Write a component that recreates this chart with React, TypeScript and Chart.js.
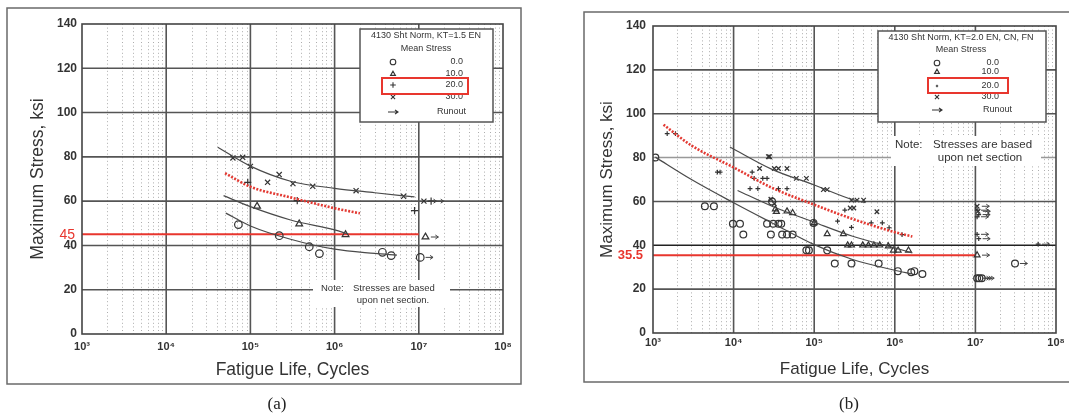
import React, { useEffect, useRef } from "react";
import { Chart, registerables } from "chart.js";
Chart.register(...registerables);

type Pt = { x: number; y: number };

const FONT = '"Liberation Sans", Arial, Helvetica, sans-serif';
const X_DECADES = [1e3, 1e4, 1e5, 1e6, 1e7, 1e8];
const X_TICK_LABELS = ["10³", "10⁴", "10⁵", "10⁶", "10⁷", "10⁸"];
const X_MINOR_MULT = [2, 3, 4, 5, 6, 7, 8, 9];
const Y_GRID = [20, 40, 60, 80, 100, 120];
const MEAN_STRESS = ["0.0", "10.0", "20.0", "30.0"];
const SYMBOLS = ["circle", "triangle", "cross", "crossRot"];
const X_TITLE = "Fatigue Life, Cycles";
const Y_TITLE = "Maximum Stress, ksi";

// ---------- Panel (a) ----------
const A_LEGEND_TITLE = "4130 Sht Norm, KT=1.5 EN";
const A_S0: Pt[] = [
  { x: 7.2e4, y: 49.4 }, { x: 2.2e5, y: 44.4 }, { x: 5.0e5, y: 39.4 },
  { x: 6.6e5, y: 36.3 }, { x: 3.7e6, y: 36.9 }, { x: 4.7e6, y: 35.4 },
];
const A_S0_RUN: Pt[] = [{ x: 1.04e7, y: 34.6 }];
const A_S10: Pt[] = [{ x: 1.2e5, y: 57.7 }, { x: 3.8e5, y: 49.7 }, { x: 1.35e6, y: 44.9 }];
const A_S10_RUN: Pt[] = [{ x: 1.2e7, y: 43.8 }];
const A_S20: Pt[] = [{ x: 9.3e4, y: 68.5 }, { x: 3.6e5, y: 60.2 }, { x: 8.9e6, y: 55.7 }];
const A_S20_RUN: Pt[] = [{ x: 1.4e7, y: 60 }];
const A_S30: Pt[] = [
  { x: 6.2e4, y: 79.5 }, { x: 8.1e4, y: 79.8 }, { x: 1.0e5, y: 75.7 },
  { x: 1.6e5, y: 68.5 }, { x: 2.2e5, y: 72 }, { x: 3.2e5, y: 67.9 },
  { x: 5.5e5, y: 66.7 }, { x: 1.8e6, y: 64.7 }, { x: 6.6e6, y: 62.2 },
];
const A_S30_RUN: Pt[] = [{ x: 1.15e7, y: 60 }];
const A_C0: Pt[] = [
  { x: 5.1e4, y: 54.6 }, { x: 1e5, y: 48.8 }, { x: 3e5, y: 42.8 },
  { x: 1e6, y: 38.3 }, { x: 3e6, y: 36.4 }, { x: 5.5e6, y: 35.6 },
];
const A_C10: Pt[] = [
  { x: 4.8e4, y: 62.5 }, { x: 1e5, y: 57.5 }, { x: 3e5, y: 51.5 },
  { x: 1e6, y: 47 }, { x: 1.45e6, y: 45.2 },
];
const A_C20: Pt[] = [
  { x: 5e4, y: 72.6 }, { x: 1e5, y: 66.5 }, { x: 3e5, y: 61.7 },
  { x: 1e6, y: 56.8 }, { x: 2e6, y: 54.5 },
];
const A_C30: Pt[] = [
  { x: 4.1e4, y: 84.3 }, { x: 1e5, y: 75.8 }, { x: 3e5, y: 69 },
  { x: 1e6, y: 65.8 }, { x: 3e6, y: 63.8 }, { x: 8.9e6, y: 61.9 },
];
const A_RED_VALUE = 45;
const A_RED_LABEL = "45";

// ---------- Panel (b) ----------
const B_LEGEND_TITLE = "4130 Sht Norm, KT=2.0 EN, CN, FN";
const B_S0: Pt[] = [
  { x: 1.07e3, y: 80 }, { x: 4.4e3, y: 57.8 }, { x: 5.7e3, y: 57.8 },
  { x: 9.8e3, y: 49.8 }, { x: 1.2e4, y: 49.8 }, { x: 1.32e4, y: 44.9 },
  { x: 2.6e4, y: 49.8 }, { x: 3.1e4, y: 49.8 }, { x: 3.6e4, y: 49.8 },
  { x: 3.9e4, y: 49.8 }, { x: 2.9e4, y: 44.9 }, { x: 4.0e4, y: 44.9 },
  { x: 4.6e4, y: 44.9 }, { x: 5.4e4, y: 44.9 }, { x: 8.0e4, y: 37.7 },
  { x: 8.6e4, y: 37.7 }, { x: 9.8e4, y: 50.2 }, { x: 1.45e5, y: 37.7 },
  { x: 1.8e5, y: 31.7 }, { x: 2.9e5, y: 31.7 }, { x: 6.3e5, y: 31.7 },
  { x: 1.09e6, y: 28.2 }, { x: 1.6e6, y: 27.7 }, { x: 1.75e6, y: 28.2 },
  { x: 2.2e6, y: 26.9 }, { x: 3.0e4, y: 60 },
];
const B_S0_RUN: Pt[] = [{ x: 1.05e7, y: 25 }, { x: 1.12e7, y: 25 }, { x: 1.2e7, y: 25 }, { x: 3.1e7, y: 31.7 }];
const B_S10: Pt[] = [
  { x: 3.4e4, y: 55.3 }, { x: 3.3e4, y: 56.5 }, { x: 4.6e4, y: 55.5 },
  { x: 5.4e4, y: 54.8 }, { x: 1.0e5, y: 50.2 }, { x: 1.45e5, y: 45.2 },
  { x: 2.3e5, y: 45.2 }, { x: 2.6e5, y: 40 }, { x: 2.9e5, y: 40 },
  { x: 4.0e5, y: 40 }, { x: 4.7e5, y: 40 }, { x: 5.5e5, y: 40 },
  { x: 6.5e5, y: 40 }, { x: 8.3e5, y: 39.6 }, { x: 9.6e5, y: 37.7 },
  { x: 1.1e6, y: 37.7 }, { x: 1.48e6, y: 37.7 },
];
const B_S10_RUN: Pt[] = [{ x: 1.05e7, y: 35.5 }];
const B_S20: Pt[] = [
  { x: 1.5e3, y: 90.9 }, { x: 1.9e3, y: 90.9 }, { x: 6.3e3, y: 73.4 },
  { x: 6.8e3, y: 73.4 }, { x: 1.7e4, y: 73.4 }, { x: 1.8e4, y: 70.5 },
  { x: 2.3e4, y: 70.5 }, { x: 2.6e4, y: 70.5 }, { x: 1.6e4, y: 65.8 },
  { x: 2.0e4, y: 65.8 }, { x: 3.6e4, y: 65.8 }, { x: 4.6e4, y: 65.8 },
  { x: 1.95e5, y: 51 }, { x: 2.9e5, y: 48.2 }, { x: 5.1e5, y: 50.2 },
  { x: 7.0e5, y: 50.2 }, { x: 8.5e5, y: 48 }, { x: 1.23e6, y: 44.9 },
  { x: 2.4e5, y: 56 },
];
const B_S20_RUN: Pt[] = [
  { x: 1.05e7, y: 56 }, { x: 1.1e7, y: 54 }, { x: 1.05e7, y: 53 },
  { x: 1.05e7, y: 45 }, { x: 1.1e7, y: 43 }, { x: 6e7, y: 40.5 },
];
const B_S30: Pt[] = [
  { x: 2.1e4, y: 75 }, { x: 2.7e4, y: 80.4 }, { x: 2.8e4, y: 80.4 },
  { x: 3.2e4, y: 75 }, { x: 3.6e4, y: 75 }, { x: 4.6e4, y: 75 },
  { x: 6.0e4, y: 70.5 }, { x: 8.0e4, y: 70.5 }, { x: 1.3e5, y: 65.4 },
  { x: 1.45e5, y: 65.4 }, { x: 2.9e5, y: 60.6 }, { x: 3.4e5, y: 60.6 },
  { x: 4.1e5, y: 60.6 }, { x: 6.0e5, y: 55.3 }, { x: 2.8e5, y: 57 },
  { x: 3.1e5, y: 57 }, { x: 2.9e4, y: 61 }, { x: 3.2e4, y: 59 },
];
const B_S30_RUN: Pt[] = [{ x: 1.05e7, y: 57.8 }, { x: 1.08e7, y: 55.5 }];
const B_C0: Pt[] = [
  { x: 1.07e3, y: 80.2 }, { x: 3e3, y: 70 }, { x: 1e4, y: 59.4 }, { x: 3e4, y: 50.2 },
  { x: 1e5, y: 40.3 }, { x: 3e5, y: 33.5 }, { x: 1e6, y: 28.6 }, { x: 1.6e6, y: 27 },
];
const B_C10: Pt[] = [
  { x: 1.12e4, y: 65 }, { x: 3e4, y: 57.8 }, { x: 1e5, y: 50.5 },
  { x: 3e5, y: 44.1 }, { x: 1e6, y: 38.8 }, { x: 1.65e6, y: 36.5 },
];
const B_C20: Pt[] = [
  { x: 1.35e3, y: 95 }, { x: 3e3, y: 85.5 }, { x: 1e4, y: 75.5 }, { x: 3e4, y: 66.2 },
  { x: 1e5, y: 58.5 }, { x: 3e5, y: 52 }, { x: 1e6, y: 46 }, { x: 1.65e6, y: 44 },
];
const B_C30: Pt[] = [
  { x: 9e3, y: 84.8 }, { x: 3e4, y: 74.6 }, { x: 1e5, y: 67.5 },
  { x: 3e5, y: 60.8 }, { x: 4.3e5, y: 59.4 },
];
const B_RED_VALUE = 35.5;
const B_RED_LABEL = "35.5";

const NOTE_A = ["Note:", "Stresses are based", "upon net section."];
const NOTE_B = ["Note:", "Stresses are based", "upon net section"];

// ---------- geometry / style ----------
interface PanelCfg {
  id: string;
  left: number; width: number; height: number;
  area: { left: number; right: number; top: number; bottom: number };
  yTickPad: number; xTickPad: number; yTitlePad: number; xTitlePad: number; titleSize: number;
  series: Pt[][]; runs: Pt[][]; curves: Pt[][];
  radius: number[];
  redValue: number; redLabel: string; redBold: boolean; redSize: number; redRight: number;
  frame: [number, number, number, number];
  legend: {
    box: [number, number, number, number]; title: string; cx: number; titleY: number; subY: number;
    symX: number; rowY: number[]; valX: number; runX: number; runY: number; font: number;
    redBox: [number, number, number, number];
  };
  note: { rect: [number, number, number, number]; lines: string[]; noteX: number; textX: number; line2X: number; y1: number; y2: number; font: number };
  gridColor: (v: number) => string;
}

const PANEL_A: PanelCfg = {
  id: "a", left: 0, width: 540, height: 414,
  area: { left: 82, right: 503, top: 24, bottom: 334 },
  yTickPad: 5, xTickPad: 6, yTitlePad: 28, xTitlePad: 33, titleSize: 17.5,
  series: [A_S0, A_S10, A_S20, A_S30], runs: [A_S0_RUN, A_S10_RUN, A_S20_RUN, A_S30_RUN],
  curves: [A_C0, A_C10, A_C20, A_C30], radius: [3.8, 3.9, 3.6, 3.6],
  redValue: A_RED_VALUE, redLabel: A_RED_LABEL, redBold: false, redSize: 14, redRight: 75,
  frame: [7, 8, 514, 376],
  legend: {
    box: [360, 29, 133, 93], title: A_LEGEND_TITLE, cx: 426, titleY: 36, subY: 49,
    symX: 393, rowY: [62, 74, 85, 97], valX: 463, runX: 466, runY: 112, font: 9,
    redBox: [382, 78, 86, 16],
  },
  note: { rect: [313, 280, 137, 27], lines: NOTE_A, noteX: 321, textX: 353, line2X: 393, y1: 288, y2: 300, font: 9.5 },
  gridColor: () => "#555",
};

const PANEL_B: PanelCfg = {
  id: "b", left: 540, width: 529, height: 414,
  area: { left: 113, right: 516, top: 26, bottom: 333 },
  yTickPad: 7, xTickPad: 3.5, yTitlePad: 57, xTitlePad: 34, titleSize: 17,
  series: [B_S0, B_S10, B_S20, B_S30], runs: [B_S0_RUN, B_S10_RUN, B_S20_RUN, B_S30_RUN],
  curves: [B_C0, B_C10, B_C20, B_C30], radius: [3.4, 3.4, 2.4, 3.2],
  redValue: B_RED_VALUE, redLabel: B_RED_LABEL, redBold: true, redSize: 13, redRight: 103,
  frame: [44, 12, 540, 370],
  legend: {
    box: [338, 31, 168, 91], title: B_LEGEND_TITLE, cx: 421, titleY: 38, subY: 50,
    symX: 397, rowY: [63, 72, 86, 97], valX: 459, runX: 472, runY: 110, font: 9,
    redBox: [388, 78, 80, 15],
  },
  note: { rect: [351, 136, 150, 30], lines: NOTE_B, noteX: 355, textX: 393, line2X: 440, y1: 145, y2: 158, font: 11.5 },
  gridColor: (v: number) => (v === 40 ? "#222" : v === 80 ? "#999" : "#555"),
};

function drawSym(ctx: CanvasRenderingContext2D, kind: string, x: number, y: number, r: number) {
  ctx.beginPath();
  if (kind === "circle") ctx.arc(x, y, r, 0, Math.PI * 2);
  else if (kind === "triangle") {
    ctx.moveTo(x, y - r); ctx.lineTo(x + r * 0.87, y + r * 0.5); ctx.lineTo(x - r * 0.87, y + r * 0.5); ctx.closePath();
  } else if (kind === "cross") {
    ctx.moveTo(x - r, y); ctx.lineTo(x + r, y); ctx.moveTo(x, y - r); ctx.lineTo(x, y + r);
  } else {
    const d = r * 0.75;
    ctx.moveTo(x - d, y - d); ctx.lineTo(x + d, y + d); ctx.moveTo(x + d, y - d); ctx.lineTo(x - d, y + d);
  }
  ctx.stroke();
}

function drawArrow(ctx: CanvasRenderingContext2D, x0: number, x1: number, y: number) {
  ctx.beginPath();
  ctx.moveTo(x0, y); ctx.lineTo(x1, y);
  ctx.moveTo(x1 - 3, y - 2); ctx.lineTo(x1, y); ctx.lineTo(x1 - 3, y + 2);
  ctx.stroke();
}

function decor(c: PanelCfg) {
  return {
    id: "decor_" + c.id,
    beforeDraw(chart: any) {
      const ctx: CanvasRenderingContext2D = chart.ctx;
      ctx.save();
      ctx.fillStyle = "#fff";
      ctx.fillRect(0, 0, chart.width, chart.height);
      ctx.strokeStyle = "#6a6a6a";
      ctx.lineWidth = 1.5;
      ctx.strokeRect(c.frame[0], c.frame[1], c.frame[2], c.frame[3]);
      ctx.restore();
    },
    beforeDatasetsDraw(chart: any) {
      const ctx: CanvasRenderingContext2D = chart.ctx;
      const { left, right, top, bottom } = chart.chartArea;
      const xs = chart.scales.x, ys = chart.scales.y;
      ctx.save();
      // minor verticals (dotted)
      ctx.strokeStyle = "#adadad";
      ctx.lineWidth = 1;
      ctx.setLineDash([1, 2.6]);
      X_DECADES.slice(0, -1).forEach((d) => {
        X_MINOR_MULT.forEach((m) => {
          const px = Math.round(xs.getPixelForValue(d * m)) + 0.5;
          ctx.beginPath(); ctx.moveTo(px, top); ctx.lineTo(px, bottom); ctx.stroke();
        });
      });
      ctx.setLineDash([]);
      // major verticals
      ctx.strokeStyle = "#555";
      ctx.lineWidth = 1.6;
      X_DECADES.slice(1, -1).forEach((d) => {
        const px = xs.getPixelForValue(d);
        ctx.beginPath(); ctx.moveTo(px, top); ctx.lineTo(px, bottom); ctx.stroke();
      });
      // horizontals
      Y_GRID.forEach((v) => {
        const py = ys.getPixelForValue(v);
        ctx.strokeStyle = c.gridColor(v);
        ctx.beginPath(); ctx.moveTo(left, py); ctx.lineTo(right, py); ctx.stroke();
      });
      // note box
      const n = c.note;
      ctx.fillStyle = "#fff";
      ctx.fillRect(n.rect[0], n.rect[1], n.rect[2], n.rect[3]);
      ctx.fillStyle = "#333";
      ctx.font = `${n.font}px ${FONT}`;
      ctx.textBaseline = "middle";
      ctx.textAlign = "left";
      ctx.fillText(n.lines[0], n.noteX, n.y1);
      ctx.fillText(n.lines[1], n.textX, n.y1);
      ctx.textAlign = "center";
      ctx.fillText(n.lines[2], n.line2X, n.y2);
      // red reference line
      const ry = ys.getPixelForValue(c.redValue);
      ctx.strokeStyle = "#e8362e";
      ctx.lineWidth = 2;
      ctx.beginPath(); ctx.moveTo(left, ry); ctx.lineTo(xs.getPixelForValue(X_DECADES[4]), ry); ctx.stroke();
      ctx.restore();
    },
    afterDatasetsDraw(chart: any) {
      const ctx: CanvasRenderingContext2D = chart.ctx;
      const { left, right, top, bottom } = chart.chartArea;
      const ys = chart.scales.y;
      ctx.save();
      // runout arrows
      ctx.strokeStyle = "#444";
      ctx.lineWidth = 1;
      chart.data.datasets.forEach((ds: any, i: number) => {
        if (!ds.runout) return;
        chart.getDatasetMeta(i).data.forEach((el: any) => {
          drawArrow(ctx, el.x + ds.pointRadius + 1.5, el.x + ds.pointRadius + 9, el.y);
        });
      });
      // plot frame
      ctx.strokeStyle = "#444";
      ctx.lineWidth = 1.6;
      ctx.strokeRect(left, top, right - left, bottom - top);
      // legend
      const L = c.legend;
      ctx.fillStyle = "#fff";
      ctx.fillRect(L.box[0], L.box[1], L.box[2], L.box[3]);
      ctx.strokeStyle = "#555";
      ctx.lineWidth = 1.5;
      ctx.strokeRect(L.box[0], L.box[1], L.box[2], L.box[3]);
      ctx.fillStyle = "#333";
      ctx.font = `${L.font}px ${FONT}`;
      ctx.textBaseline = "middle";
      ctx.textAlign = "center";
      ctx.fillText(L.title, L.cx, L.titleY);
      ctx.fillText("Mean Stress", L.cx, L.subY);
      ctx.textAlign = "right";
      ctx.strokeStyle = "#333";
      ctx.lineWidth = 1.1;
      MEAN_STRESS.forEach((t, i) => {
        drawSym(ctx, SYMBOLS[i], L.symX, L.rowY[i], i === 2 && c.id === "b" ? 1.2 : 2.8);
        ctx.fillText(t, L.valX, L.rowY[i]);
      });
      drawArrow(ctx, L.symX - 5, L.symX + 5, L.runY);
      ctx.fillText("Runout", L.runX, L.runY);
      ctx.strokeStyle = "#e8362e";
      ctx.lineWidth = 2;
      ctx.strokeRect(L.redBox[0], L.redBox[1], L.redBox[2], L.redBox[3]);
      // red label
      ctx.fillStyle = "#e8362e";
      ctx.font = `${c.redBold ? "bold " : ""}${c.redSize}px ${FONT}`;
      ctx.textAlign = "right";
      ctx.fillText(c.redLabel, c.redRight, ys.getPixelForValue(c.redValue) + 0.5);
      ctx.restore();
    },
  };
}

function buildConfig(c: PanelCfg) {
  const datasets: any[] = [];
  c.curves.forEach((pts, i) => {
    const red = i === 2;
    datasets.push({
      type: "line", data: pts, showLine: true, pointRadius: 0, fill: false,
      borderColor: red ? "#e33a33" : "#4a4a4a", borderWidth: red ? 2.6 : 1.2,
      borderDash: red ? [2, 1.5] : [], cubicInterpolationMode: "monotone",
    });
  });
  c.series.forEach((pts, i) => {
    datasets.push({
      data: pts, pointStyle: SYMBOLS[i], pointRadius: c.radius[i], borderWidth: 1.2,
      pointBorderColor: "#333", pointBackgroundColor: "rgba(0,0,0,0)", showLine: false,
    });
    datasets.push({
      data: c.runs[i], pointStyle: SYMBOLS[i], pointRadius: c.radius[i], borderWidth: 1.2,
      pointBorderColor: "#333", pointBackgroundColor: "rgba(0,0,0,0)", showLine: false, runout: true,
    });
  });
  const titleFont = { family: FONT, size: c.titleSize };
  return {
    type: "scatter",
    data: { datasets },
    options: {
      responsive: false,
      animation: false,
      events: [],
      layout: { padding: { left: 0, top: c.area.top, right: c.width - c.area.right, bottom: 0 } },
      plugins: { legend: { display: false }, tooltip: { enabled: false } },
      scales: {
        x: {
          type: "logarithmic", min: X_DECADES[0], max: X_DECADES[X_DECADES.length - 1],
          afterBuildTicks: (s: any) => { s.ticks = X_DECADES.map((v) => ({ value: v })); },
          afterFit: (s: any) => { s.height = c.height - c.area.bottom; },
          grid: { display: false, drawTicks: false }, border: { display: false },
          ticks: {
            autoSkip: false, maxRotation: 0, padding: c.xTickPad, color: "#333",
            font: { family: FONT, size: 11, weight: "bold" },
            callback: (v: any) => X_TICK_LABELS[Math.round(Math.log10(Number(v))) - 3],
          },
          title: { display: true, text: X_TITLE, color: "#333", font: titleFont, padding: { top: 0, bottom: c.xTitlePad } },
        },
        y: {
          min: 0, max: 140,
          afterFit: (s: any) => { s.width = c.area.left; },
          grid: { display: false, drawTicks: false }, border: { display: false },
          ticks: { stepSize: 20, padding: c.yTickPad, color: "#333", font: { family: FONT, size: 12, weight: "bold" } },
          title: { display: true, text: Y_TITLE, color: "#333", font: titleFont, padding: { top: c.yTitlePad, bottom: 0 } },
        },
      },
    },
    plugins: [decor(c)],
  };
}

function Panel({ cfg }: { cfg: PanelCfg }) {
  const ref = useRef<HTMLCanvasElement>(null);
  useEffect(() => {
    const chart = new Chart(ref.current as HTMLCanvasElement, buildConfig(cfg) as any);
    return () => chart.destroy();
  }, [cfg]);
  return (
    <canvas
      ref={ref}
      width={cfg.width}
      height={cfg.height}
      style={{ position: "absolute", left: cfg.left, top: 0, width: cfg.width, height: cfg.height }}
    />
  );
}

const captionStyle = (cx: number): React.CSSProperties => ({
  position: "absolute", left: cx - 30, width: 60, top: 393, textAlign: "center",
  fontFamily: '"Liberation Serif", "Times New Roman", serif', fontSize: 17, color: "#222", lineHeight: "22px",
});

export default function App() {
  return (
    <div style={{ position: "absolute", left: 0, top: 0, width: 1069, height: 414, background: "#fff", overflow: "hidden" }}>
      <Panel cfg={PANEL_A} />
      <Panel cfg={PANEL_B} />
      <div style={captionStyle(277)}>(a)</div>
      <div style={captionStyle(849)}>(b)</div>
    </div>
  );
}
